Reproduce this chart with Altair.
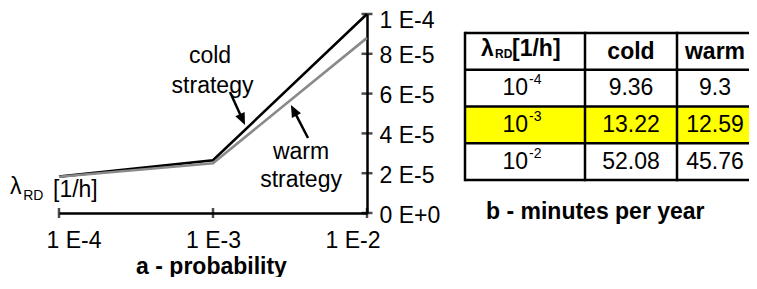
import altair as alt
import pandas as pd

# ---------------- data ----------------
LAMBDA = [1e-4, 1e-3, 1e-2]
COLD_P = [1.83e-5, 2.65e-5, 1.0e-4]
WARM_P = [1.82e-5, 2.50e-5, 8.8e-5]

X_TICKS = [1e-4, 1e-3, 1e-2]
X_LABELS = ["1 E-4", "1 E-3", "1 E-2"]
Y_TICKS = [0, 2e-5, 4e-5, 6e-5, 8e-5, 1e-4]
Y_LABELS = ["0 E+0", "2 E-5", "4 E-5", "6 E-5", "8 E-5", "1 E-4"]

TABLE_BASE = "10"
TABLE_EXP = ["-4", "-3", "-2"]
COLD_MIN = [9.36, 13.22, 52.08]
WARM_MIN = [9.3, 12.59, 45.76]
HIGHLIGHT = "-3"
HEADERS = ["cold", "warm"]
LAM_PARTS = ["λ", "RD", "[1/h]"]

X_TITLE = "a - probability"
TABLE_TITLE = "b - minutes per year"

# annotations (data coordinates)
ANN_TEXT = ["cold", "strategy", "warm", "strategy"]
ANN_X = [9.56e-4, 9.93e-4, 3.73e-3, 3.73e-3]
ANN_Y = [7.52e-5, 6.05e-5, 2.70e-5, 1.29e-5]
ARROW_X = [1.289e-3, 4.14e-3]
ARROW_Y = [6.08e-5, 3.77e-5]
HEAD_X = [1.554e-3, 3.342e-3]
HEAD_Y = [4.70e-5, 5.16e-5]
HEAD_ANGLE = [155.5, 332.7]
LAM_X = [4.81e-5, 5.86e-5, 9.14e-5]
LAM_Y = [9.5e-6, 6.5e-6, 8.0e-6]
LAM_SIZE = [23, 14, 23]

# ---------------- layout / style ----------------
FONT = "Liberation Sans"
FS = 23
EDGES = [0, 120, 212, 297]      # logical column edges (table px)
VISIBLE_W = 284                 # part of the table that fits on the page
COL_TEXT_X = [166, 250]         # text centres of the two value columns
ROWS = ["header"] + TABLE_EXP
ARROW_PATH = "M0,-1L0.85,1L-0.85,1Z"
LW = 2.5


def lab_expr(vals, labels):
    expr = "''"
    for v, l in reversed(list(zip(vals, labels))):
        expr = f"abs(datum.value - {v!r}) < 1e-9 ? '{l}' : {expr}"
    return expr


xs = alt.Scale(type="log", domain=[1e-4, 1e-2], nice=False)
ys = alt.Scale(domain=[0, 1e-4], nice=False, zero=True)

xa = alt.Axis(values=X_TICKS, labelExpr=lab_expr(X_TICKS, X_LABELS), title=X_TITLE,
              labelFont=FONT, labelFontSize=FS, labelColor="black", labelBaseline="alphabetic",
              labelPadding=34, labelFlush=True, labelFlushOffset=13, labelOverlap=False,
              ticks=False, tickSize=0, domain=True, domainColor="black", domainWidth=LW,
              grid=False, titleFont=FONT, titleFontSize=FS, titleFontWeight="bold",
              titleColor="black", titleBaseline="alphabetic", titleAlign="center",
              titleX=152, titleY=60)
ya = alt.Axis(orient="right", values=Y_TICKS, labelExpr=lab_expr(Y_TICKS, Y_LABELS), title=None,
              labelFont=FONT, labelFontSize=FS, labelColor="black", labelAlign="left",
              labelBaseline="middle", labelPadding=12,
              labelOffset={"condition": {"test": "datum.value > 9e-5", "value": 6}, "value": 2},
              labelFlush=False, labelOverlap=False, ticks=False, tickSize=0, domain=True,
              domainColor="black", domainWidth=LW, grid=False)


def ex(f):
    return alt.X(f, type="quantitative", scale=xs, axis=xa)


def ey(f):
    return alt.Y(f, type="quantitative", scale=ys, axis=ya)


line_df = pd.DataFrame({"lam": LAMBDA * 2, "p": COLD_P + WARM_P,
                        "series": ["cold"] * len(LAMBDA) + ["warm"] * len(LAMBDA)})
base = alt.Chart(line_df)
cold_line = base.transform_filter(alt.datum.series == "cold").mark_line(
    color="black", strokeWidth=2.6).encode(x=ex("lam"), y=ey("p"))
warm_line = base.transform_filter(alt.datum.series == "warm").mark_line(
    color="#8a8a8a", strokeWidth=2.6).encode(x=ex("lam"), y=ey("p"))

xt_df = pd.DataFrame({"lam": X_TICKS, "p": [Y_TICKS[0]] * len(X_TICKS)})
xticks = alt.Chart(xt_df).mark_tick(orient="vertical", size=10, thickness=LW, color="black").encode(
    x=ex("lam"), y=ey("p"))
yt_df = pd.DataFrame({"lam": [X_TICKS[-1]] * len(Y_TICKS), "p": Y_TICKS})
yticks = alt.Chart(yt_df).mark_tick(orient="horizontal", size=11, thickness=LW, color="black").encode(
    x=ex("lam"), y=ey("p"))

ann_df = pd.DataFrame({"lam": ANN_X, "p": ANN_Y, "t": ANN_TEXT})
ann = alt.Chart(ann_df).mark_text(font=FONT, fontSize=FS, align="center", baseline="alphabetic",
                                  color="black").encode(x=ex("lam"), y=ey("p"), text="t:N")

arr_df = pd.DataFrame({"lam": ARROW_X, "p": ARROW_Y, "lam2": HEAD_X, "p2": HEAD_Y, "ang": HEAD_ANGLE})
shafts = alt.Chart(arr_df).mark_rule(color="black", strokeWidth=LW).encode(
    x=ex("lam"), y=ey("p"), x2=alt.X2("lam2"), y2=alt.Y2("p2"))
heads = alt.Chart(arr_df).mark_point(shape=ARROW_PATH, filled=True, size=144, color="black",
                                     opacity=1).encode(
    x=ex("lam2"), y=ey("p2"), angle=alt.Angle("ang:Q", scale=None))

lam_df = pd.DataFrame({"lam": LAM_X, "p": LAM_Y, "t": LAM_PARTS, "fs": LAM_SIZE})
lam_lbl = alt.Chart(lam_df).mark_text(font=FONT, align="left", baseline="alphabetic",
                                      color="black").encode(
    x=ex("lam"), y=ey("p"), text="t:N", size=alt.Size("fs:Q", scale=None))

left = alt.layer(cold_line, warm_line, xticks, yticks, shafts, heads, ann, lam_lbl)

# ---------------- table ----------------
NR = len(ROWS)
tx = alt.Scale(domain=[EDGES[0], EDGES[-1]], range=[406, 703], nice=False, zero=False)
ty = alt.Scale(domain=[0, NR], range=[19, 166], nice=False, zero=False)


def tX(f):
    return alt.X(f, type="quantitative", scale=tx, axis=None)


def tY(f):
    return alt.Y(f, type="quantitative", scale=ty, axis=None)


cells = []
for i, r in enumerate(ROWS):
    for c in range(3):
        cells.append({"x0": EDGES[c], "x1": min(EDGES[c + 1], VISIBLE_W), "y0": i, "y1": i + 1,
                      "hl": r == HIGHLIGHT})
cells_df = pd.DataFrame(cells)
rects = alt.Chart(cells_df).mark_rect(strokeWidth=0).encode(
    x=tX("x0"), x2=alt.X2("x1"), y=tY("y0"), y2=alt.Y2("y1"),
    fill=alt.condition("datum.hl", alt.value("#ffff00"), alt.value("white")))

hl_df = pd.DataFrame({"y": list(range(NR + 1)), "x0": [EDGES[0]] * (NR + 1),
                      "x1": [VISIBLE_W] * (NR + 1)})
hlines = alt.Chart(hl_df).mark_rule(color="black", strokeWidth=LW).encode(
    x=tX("x0"), x2=alt.X2("x1"), y=tY("y"))
vl_df = pd.DataFrame({"x": EDGES[:3], "y0": [0] * 3, "y1": [NR] * 3})
vlines = alt.Chart(vl_df).mark_rule(color="black", strokeWidth=LW, strokeCap="square").encode(
    x=tX("x"), y=tY("y0"), y2=alt.Y2("y1"))

vals = []
for i, e in enumerate(TABLE_EXP):
    vals.append({"x": COL_TEXT_X[0], "y": i + 1.5, "t": str(COLD_MIN[i])})
    vals.append({"x": COL_TEXT_X[1], "y": i + 1.5, "t": str(WARM_MIN[i])})
vals_df = pd.DataFrame(vals)
val_txt = alt.Chart(vals_df).mark_text(font=FONT, fontSize=FS, align="center", baseline="alphabetic",
                                       dy=7, color="black").encode(x=tX("x"), y=tY("y"), text="t:N")

hdr_df = pd.DataFrame({"x": COL_TEXT_X, "y": [0.5] * 2, "t": HEADERS})
hdr_txt = alt.Chart(hdr_df).mark_text(font=FONT, fontSize=FS, fontWeight="bold", align="center",
                                      baseline="alphabetic", dy=8, color="black").encode(
    x=tX("x"), y=tY("y"), text="t:N")

row_y = [i + 1.5 for i in range(len(TABLE_EXP))]
base_df = pd.DataFrame({"x": [63] * len(TABLE_EXP), "y": row_y, "t": [TABLE_BASE] * len(TABLE_EXP)})
base_txt = alt.Chart(base_df).mark_text(font=FONT, fontSize=FS, align="right", baseline="alphabetic",
                                        dy=7, color="black").encode(x=tX("x"), y=tY("y"), text="t:N")
exp_df = pd.DataFrame({"x": [64] * len(TABLE_EXP), "y": row_y, "t": TABLE_EXP})
exp_txt = alt.Chart(exp_df).mark_text(font=FONT, fontSize=14, align="left", baseline="alphabetic",
                                      dy=-4, color="black").encode(x=tX("x"), y=tY("y"), text="t:N")

hl_big = pd.DataFrame({"x": [16, 47], "y": [0.5] * 2, "t": [LAM_PARTS[0], LAM_PARTS[2]]})
hl_big_txt = alt.Chart(hl_big).mark_text(font=FONT, fontSize=FS, fontWeight="bold", align="left",
                                         baseline="alphabetic", dy=4.5, color="black").encode(
    x=tX("x"), y=tY("y"), text="t:N")
hl_sub = pd.DataFrame({"x": [30], "y": [0.5], "t": [LAM_PARTS[1]]})
hl_sub_txt = alt.Chart(hl_sub).mark_text(font=FONT, fontSize=12, fontWeight="bold", align="left",
                                         baseline="alphabetic", dy=7, color="black").encode(
    x=tX("x"), y=tY("y"), text="t:N")

cap_df = pd.DataFrame({"t": [TABLE_TITLE]})
caption = alt.Chart(cap_df).mark_text(font=FONT, fontSize=FS, fontWeight="bold", align="left",
                                      baseline="alphabetic", color="black").encode(
    x=alt.value(427), y=alt.value(205), text="t:N")

table = alt.layer(rects, hlines, vlines, val_txt, hdr_txt, base_txt, exp_txt,
                  hl_big_txt, hl_sub_txt, caption)

chart = alt.layer(left, table).resolve_scale(x="independent", y="independent").properties(
    width=308, height=199,
    autosize=alt.AutoSizeParams(type="none"),
    padding={"left": 51, "top": 6, "right": 382, "bottom": 64},
).configure_view(stroke="transparent")

chart.save("out.html", embed_options={"renderer": "svg", "actions": False})
